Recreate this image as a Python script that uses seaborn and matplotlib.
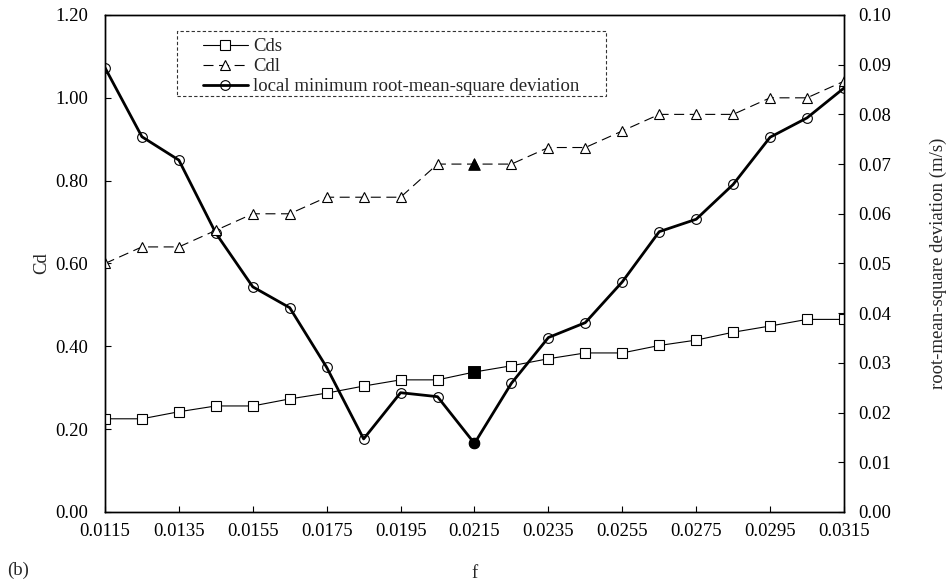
import numpy as np
import pandas as pd
import matplotlib
matplotlib.use("Agg")
import matplotlib.pyplot as plt
from matplotlib.patches import Rectangle
import seaborn as sns

# friction factor values
f_values = [0.0115, 0.0125, 0.0135, 0.0145, 0.0155, 0.0165, 0.0175, 0.0185,
            0.0195, 0.0205, 0.0215, 0.0225, 0.0235, 0.0245, 0.0255, 0.0265,
            0.0275, 0.0285, 0.0295, 0.0305, 0.0315]

# drag coefficients
cds = [0.225, 0.225, 0.242, 0.256, 0.256, 0.273, 0.287, 0.304, 0.319, 0.319,
       0.338, 0.353, 0.370, 0.384, 0.384, 0.402, 0.415, 0.434, 0.449, 0.465,
       0.465]
cdl = [0.60, 0.64, 0.64, 0.68, 0.72, 0.72, 0.76, 0.76, 0.76, 0.84, 0.84,
       0.84, 0.88, 0.88, 0.92, 0.96, 0.96, 0.96, 1.00, 1.00, 1.04]

# local minimum root-mean-square deviation (m/s)
rms = [0.0894, 0.0755, 0.0708, 0.0561, 0.0453, 0.0411, 0.0291, 0.0147,
       0.0240, 0.0232, 0.0138, 0.0259, 0.0351, 0.0381, 0.0463, 0.0564,
       0.0589, 0.0659, 0.0754, 0.0793, 0.0853]

x_ticks = [0.0115, 0.0135, 0.0155, 0.0175, 0.0195, 0.0215, 0.0235, 0.0255,
           0.0275, 0.0295, 0.0315]
cd_ticks = [0.0, 0.2, 0.4, 0.6, 0.8, 1.0, 1.2]
rms_ticks = [0.00, 0.01, 0.02, 0.03, 0.04, 0.05, 0.06, 0.07, 0.08, 0.09, 0.10]

df = pd.DataFrame({"f": f_values, "Cds": cds, "Cdl": cdl, "rms": rms})
best = int(np.argmin(df["rms"].values))
df_best = df.iloc[[best]]

sns.set_theme(style="white")
plt.rcParams["font.family"] = ["Liberation Serif", "DejaVu Serif"]

fig = plt.figure(figsize=(9.5, 5.81), dpi=100)
ax = fig.add_axes([0.1105, 0.1188, 0.7779, 0.8554])
ax2 = ax.twinx()

sns.lineplot(data=df, x="f", y="Cds", ax=ax, color="black", linewidth=0.8,
             marker="s", markersize=7.5, markerfacecolor="white",
             markeredgecolor="black", markeredgewidth=0.8, label="Cds",
             legend=False)
sns.lineplot(data=df, x="f", y="Cdl", ax=ax, color="black", linewidth=0.8,
             linestyle=(0, (9, 5)), marker="^", markersize=7.5,
             markerfacecolor="white", markeredgecolor="black",
             markeredgewidth=0.8, label="Cdl", legend=False)
sns.lineplot(data=df, x="f", y="rms", ax=ax2, color="black", linewidth=2.0,
             marker="o", markersize=7, markerfacecolor="none",
             markeredgecolor="black", markeredgewidth=0.8,
             label="local minimum root-mean-square deviation", legend=False)

# highlight the best-fit friction factor
sns.scatterplot(data=df_best, x="f", y="Cds", ax=ax, marker="s", s=70,
                color="black", edgecolor="black", zorder=5, legend=False)
sns.scatterplot(data=df_best, x="f", y="Cdl", ax=ax, marker="^", s=70,
                color="black", edgecolor="black", zorder=5, legend=False)
sns.scatterplot(data=df_best, x="f", y="rms", ax=ax2, marker="o", s=60,
                color="black", edgecolor="black", zorder=5, legend=False)

ax.set_xlim(0.0115, 0.0315)
ax.set_ylim(0, 1.2)
ax2.set_ylim(0, 0.10)
ax.set_xticks(x_ticks)
ax.set_xticklabels([f"{v:.4f}" for v in x_ticks])
ax.set_yticks(cd_ticks)
ax.set_yticklabels([f"{v:.2f}" for v in cd_ticks])
ax2.set_yticks(rms_ticks)
ax2.set_yticklabels([f"{v:.2f}" for v in rms_ticks])

for a in (ax, ax2):
    for s in a.spines.values():
        s.set_color("black")
        s.set_linewidth(1.0)
ax.tick_params(axis="x", direction="in", length=4, width=0.8, pad=8,
               labelsize=13.5, colors="black", bottom=True)
ax.tick_params(axis="y", direction="in", length=4, width=0.8, pad=12,
               labelsize=13.5, colors="black", left=True)
ax2.tick_params(axis="y", direction="in", length=4, width=0.8, pad=10,
                labelsize=13.5, colors="black", right=True)

ax.set_xlabel("f", fontsize=13.5, labelpad=18)
ax.set_ylabel("Cd", fontsize=13.5, labelpad=4)
ax2.set_ylabel("root-mean-square deviation (m/s)", fontsize=13.5, labelpad=28)

fig.text(0.008, 0.004, "(b)", fontsize=13.5, ha="left", va="bottom")

# legend with a dashed enclosing box
h1, l1 = ax.get_legend_handles_labels()
h2, l2 = ax2.get_legend_handles_labels()
leg = ax.legend(h1[:2] + h2[:1], l1[:2] + l2[:1],
                bbox_to_anchor=(0.132, 0.953), loc="upper left",
                frameon=False, fontsize=13.5, handlelength=2.4,
                handletextpad=0.3, labelspacing=0.15, borderpad=0.0,
                borderaxespad=0)
ax.add_patch(Rectangle((0.0974, 0.837), 0.58, 0.131, transform=ax.transAxes,
                       fill=False, edgecolor="#333333", linewidth=0.8,
                       linestyle=(0, (3, 2)), zorder=6))
ax.set_zorder(ax2.get_zorder() + 1)
ax.patch.set_visible(False)

fig.savefig("out.png", dpi=100)
